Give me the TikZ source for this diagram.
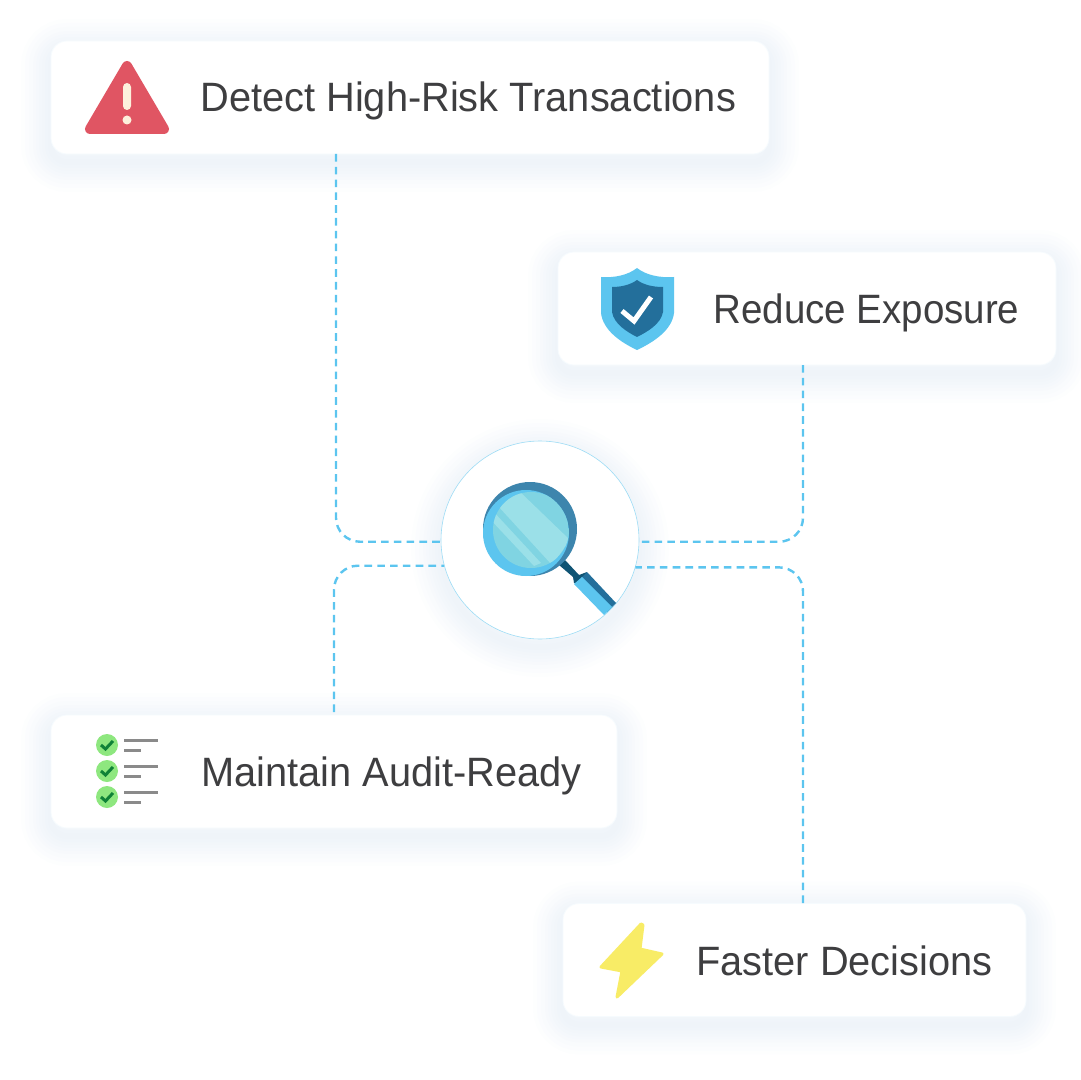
\documentclass[tikz,border=0pt]{standalone}
\usepackage{fontspec}
\setmainfont[FakeStretch=0.97]{Liberation Sans}
\usetikzlibrary{positioning,calc}
\definecolor{linkBlue}{RGB}{92,197,239}
\definecolor{rimBlue}{RGB}{61,133,173}
\definecolor{deepBlue}{RGB}{35,111,155}
\definecolor{neckBlue}{RGB}{15,84,116}
\definecolor{glassTeal}{RGB}{128,212,226}
\definecolor{glassLight}{RGB}{155,224,232}
\definecolor{shadowTint}{RGB}{205,221,238}
\definecolor{cardEdge}{RGB}{246,251,254}
\definecolor{labelGray}{RGB}{62,62,64}
\definecolor{alertRed}{RGB}{224,85,99}
\definecolor{alertCream}{RGB}{253,240,220}
\definecolor{checkGreen}{RGB}{142,231,127}
\definecolor{tickGreen}{RGB}{15,130,55}
\definecolor{barGray}{RGB}{138,138,138}
\definecolor{boltYellow}{RGB}{248,236,102}
\tikzset{
  softlayer/.style={preaction={draw=shadowTint,draw opacity=.045,line width=#1,transform canvas={yshift=-4pt}}},
  softshadow/.style={softlayer=30pt,softlayer=26pt,softlayer=22pt,softlayer=18pt,softlayer=15pt,softlayer=12pt,softlayer=9pt,softlayer=6pt,softlayer=3pt},
  card/.style={softshadow,rectangle,rounded corners=8pt,draw=cardEdge,line width=.4pt,fill=white,inner sep=0pt,minimum height=56.5pt},
  cardlabel/.style={anchor=base west,inner sep=0pt,text=labelGray,font=\fontsize{20.5pt}{24pt}\selectfont},
  link/.style={draw=linkBlue,line width=1.2pt,dash pattern=on 3.8pt off 2.6pt,rounded corners=12pt},
  hub/.style={softshadow,circle,draw=linkBlue!60,line width=.3pt,fill=white,inner sep=0pt,minimum size=99pt},
  checkdot/.style={circle,fill=checkGreen,inner sep=0pt,minimum size=11pt},
  bar/.style={draw=barGray,line width=1.5pt}
}
\begin{document}
\begin{tikzpicture}[x=0.5pt,y=-0.5pt]
  \useasboundingbox (0,0) rectangle (1080,1080);
  % --- Cards ---
  \node[card,minimum width=359pt] (riskcard) at (410,97.5) {};
  \node[card,minimum width=249pt] (exposurecard) at (807,308.5) {};
  \node[card,minimum width=283pt] (auditcard) at (334,771.5) {};
  \node[card,minimum width=231.5pt] (fastercard) at (794.5,960) {};
  % Free ends of the connectors
  \coordinate (riskfoot) at (336,154);
  \coordinate (exposurefoot) at (803,365);
  \coordinate (audithead) at (334,712);
  \coordinate (fasterhead) at (803,903);
  % --- Hub ---
  \node[hub] (lens) at (540,540) {};
  % Connections
  \draw[link] (riskfoot) |- (lens.181);
  \draw[link] (exposurefoot) |- (lens.359);
  \draw[link] (audithead) |- (lens.195);
  \draw[link] (fasterhead) |- (lens.344);
  % --- Magnifier ---
  \fill[neckBlue] (565,560) -- (579,575) -- (587,572) -- (581,585) -- (574,583) -- (573,577) -- (559,565) -- cycle;
  \fill[deepBlue] (587,572) -- (616,603) -- (607,612) -- (578,581) -- cycle;
  \fill[linkBlue] (582,577) -- (612,607) -- (604,615) -- (574,584) -- cycle;
  \fill[rimBlue] (530,529) circle (47);
  \fill[linkBlue] (526,533) circle (43);
  \begin{scope}
    \clip (526,533) circle (43);
    \fill[glassTeal] (531,530) circle (38);
    \begin{scope}
      \clip (531,530) circle (38);
      \fill[glassLight] (516,488) -- (570,540) -- (552,565) -- (498,506) -- cycle;
      \fill[glassLight] (492,510) -- (541,563) -- (534,566) -- (488,517) -- cycle;
    \end{scope}
  \end{scope}
  % --- Alert triangle ---
  \fill[alertRed,draw=alertRed,line width=5pt,line join=round] (127,66) -- (90,129) -- (164,129) -- cycle;
  \fill[alertCream,rounded corners=2pt] (123,83) rectangle (131,110);
  \fill[alertCream] (127,120) circle (4.5);
  \node[cardlabel] (risklabel) at (200,112) {Detect High-Risk Transactions};
  % --- Shield ---
  \fill[linkBlue] (637,268) .. controls (628,275) and (615,278) .. (601,277) -- (601,313)
    .. controls (603,330) and (620,342) .. (637,350) .. controls (654,342) and (672,330) .. (674,313)
    -- (674,277) .. controls (659,278) and (646,275) .. (637,268) -- cycle;
  \fill[deepBlue] (637,280) .. controls (630,285) and (621,287) .. (612,287) -- (612,312)
    .. controls (614,324) and (627,332) .. (637,337) .. controls (647,332) and (661,324) .. (663,312)
    -- (663,287) .. controls (653,287) and (644,285) .. (637,280) -- cycle;
  \draw[white,line width=2.5pt] (622,311) -- (634,321) -- (651,297);
  \node[cardlabel] (exposurelabel) at (713,323) {\scalebox{0.968}[1]{Reduce Exposure}};
  % --- Checklist ---
  \foreach \rowy [count=\rowi] in {745,771,797} {
    \node[checkdot] (check\rowi) at (107,\rowy) {};
    \draw[tickGreen,line width=1.5pt] (101,\rowy) -- (105.5,\rowy+4) -- (113,\rowy-4);
    \draw[bar] (124,\rowy-5) -- (158,\rowy-5);
    \draw[bar] (124,\rowy+5) -- (141,\rowy+5);
  }
  \node[cardlabel] (auditlabel) at (201,786) {Maintain Audit-Ready};
  % --- Bolt ---
  \fill[boltYellow,draw=boltYellow,line width=1.5pt,line join=round] (641,924) -- (601,967) -- (622,971)
    -- (617,997) -- (662,954) -- (640,949) -- (643,925) -- cycle;
  \node[cardlabel] (fasterlabel) at (696,975) {Faster Decisions};
\end{tikzpicture}
\end{document}
